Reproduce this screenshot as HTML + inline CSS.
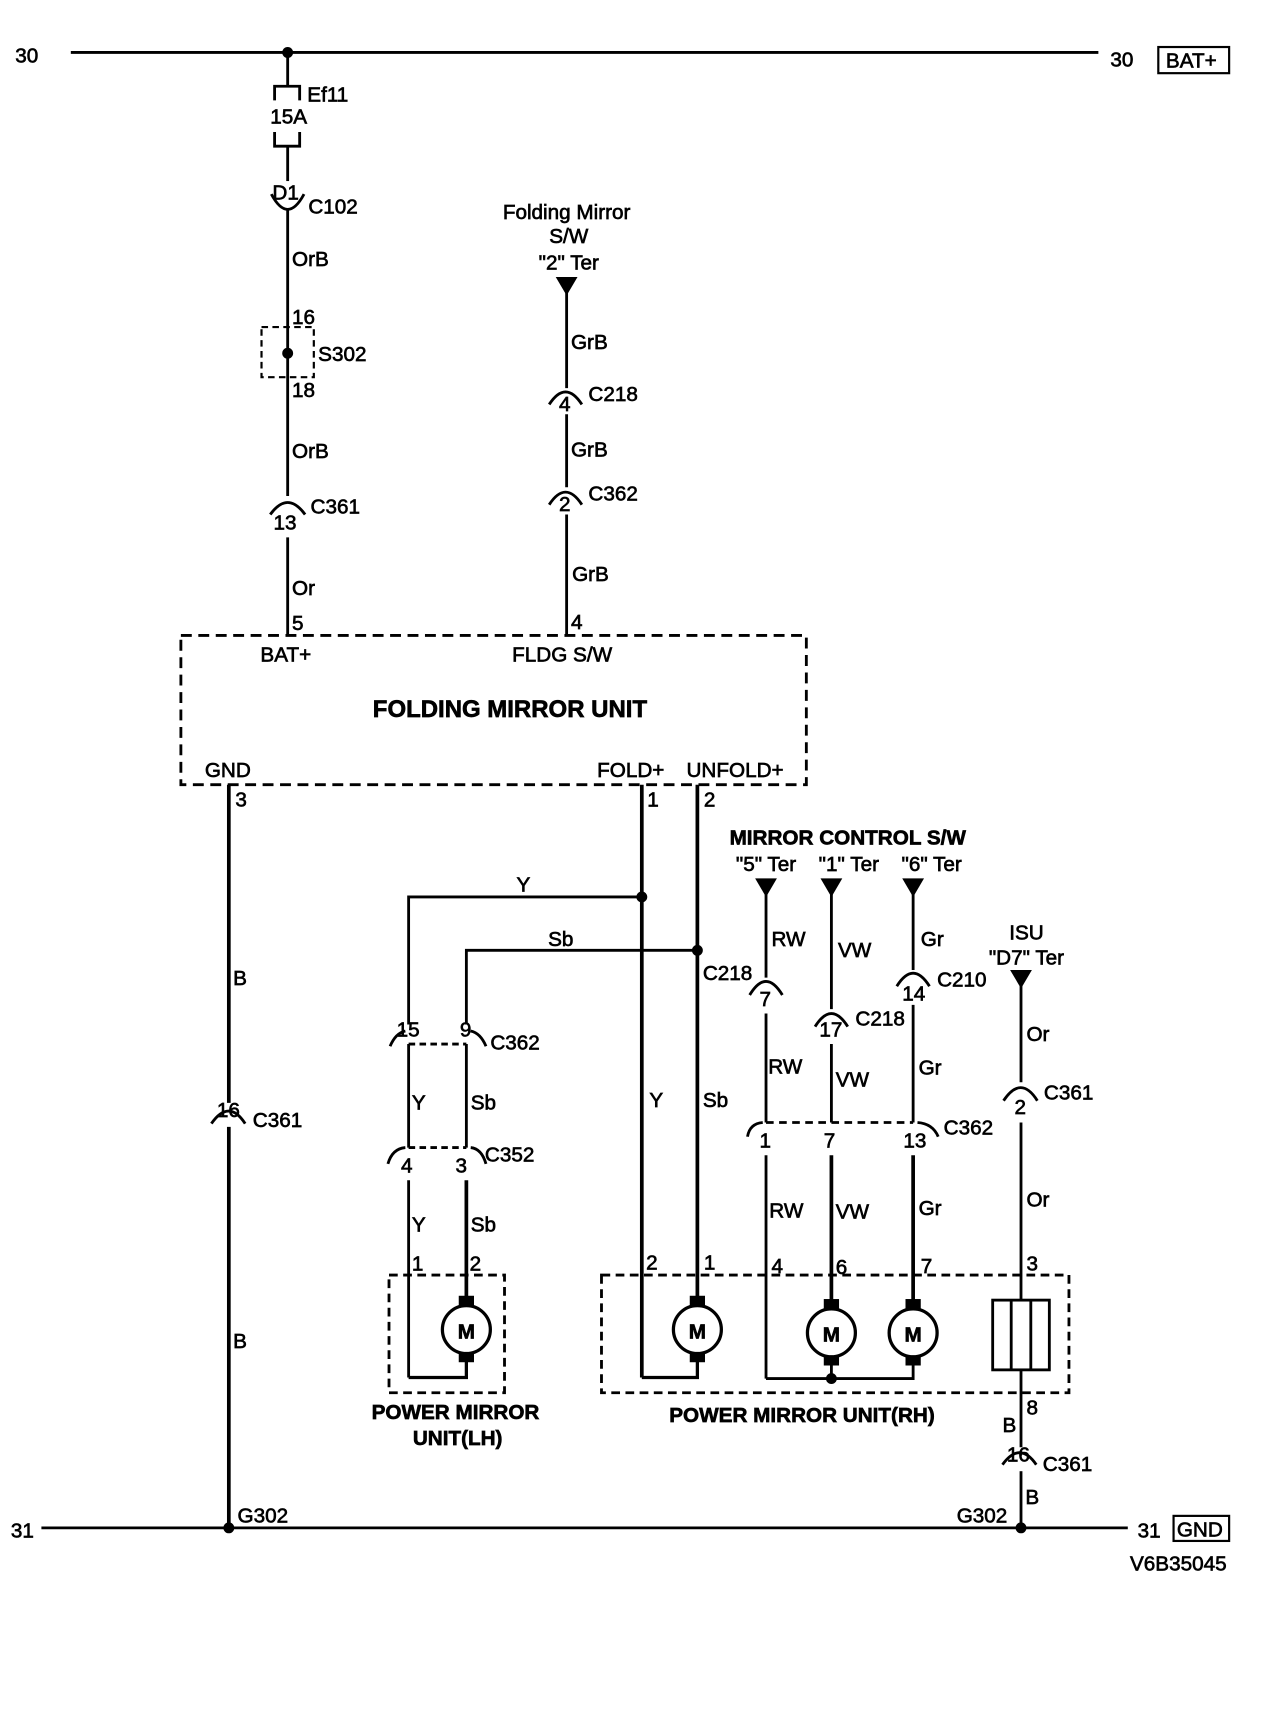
<!DOCTYPE html>
<html><head><meta charset="utf-8"><style>
html,body{margin:0;padding:0;background:#fff;}
svg{display:block;}
text{font-family:"Liberation Sans",Arial,sans-serif;font-size:19px;fill:#000;stroke:#000;stroke-width:0.6;}
.b{font-weight:bold;}
</style></head><body>
<svg width="1264" height="1710" viewBox="0 0 1160 1569" xmlns="http://www.w3.org/2000/svg">
<g stroke="#000" fill="none" stroke-width="2.6">
<line x1="65" y1="48" x2="1008" y2="48"/>
<line x1="38" y1="1402" x2="1035" y2="1402"/>
<rect x="1063" y="43" width="65" height="24" stroke-width="2"/>
<rect x="1077" y="1391" width="51" height="23" stroke-width="2"/>
<line x1="264" y1="48" x2="264" y2="79"/>
<path d="M252 92 V79 H275 V92"/>
<path d="M252 121 V134 H275 V121"/>
<line x1="264" y1="134" x2="264" y2="166"/>
<path d="M249 178 Q264 206 279 178"/>
<line x1="264" y1="192" x2="264" y2="455"/>
<rect x="240" y="300" width="48" height="46" stroke-dasharray="6,4" stroke-width="2"/>
<path d="M248 472 Q264 450 280 472"/>
<line x1="264" y1="493" x2="264" y2="583"/>
<line x1="520" y1="262" x2="520" y2="356"/>
<path d="M504 371 Q519 348 534 371"/>
<line x1="520" y1="380" x2="520" y2="447"/>
<path d="M504 463 Q519 440 534 463"/>
<line x1="520" y1="472" x2="520" y2="583"/>
<rect x="166" y="583" width="574" height="137" stroke-dasharray="10,6"/>
<line x1="210" y1="720" x2="210" y2="1012" stroke-width="3.4"/>
<path d="M194 1031 Q210 1008 225 1031"/>
<line x1="210" y1="1034" x2="210" y2="1402" stroke-width="3.4"/>
<line x1="589" y1="720" x2="589" y2="1264" stroke-width="3.4"/>
<line x1="640" y1="720" x2="640" y2="1195" stroke-width="3.4"/>
<path d="M589 1264 H640 V1248" stroke-width="3"/>
<path d="M589 823 H375 V940"/>
<path d="M640 872 H428 V940"/>
<path d="M358 960 Q363 948 372 946"/>
<path d="M432 946 Q441 948 446 960"/>
<line x1="375" y1="958" x2="428" y2="958" stroke-dasharray="6,4"/>
<line x1="375" y1="958" x2="375" y2="1053"/>
<line x1="428" y1="958" x2="428" y2="1053"/>
<path d="M356 1068 Q360 1054 372 1053"/>
<path d="M432 1053 Q442 1054 446 1068"/>
<line x1="375" y1="1053" x2="428" y2="1053" stroke-dasharray="6,4"/>
<line x1="375" y1="1083" x2="375" y2="1264"/>
<line x1="428" y1="1083" x2="428" y2="1195" stroke-width="3.4"/>
<path d="M375 1264 H428 V1248" stroke-width="3"/>
<rect x="357" y="1170" width="106" height="108" stroke-dasharray="8,5"/>
<rect x="552" y="1170" width="429" height="108" stroke-dasharray="8,5"/>
<line x1="703" y1="814" x2="703" y2="897"/>
<path d="M688 913 Q703 888 718 913"/>
<line x1="703" y1="930" x2="703" y2="1030"/>
<line x1="763" y1="814" x2="763" y2="926"/>
<path d="M748 942 Q763 918 778 942"/>
<line x1="763" y1="958" x2="763" y2="1030"/>
<line x1="838" y1="814" x2="838" y2="890"/>
<path d="M823 905 Q838 881 853 905"/>
<line x1="838" y1="922" x2="838" y2="1030"/>
<path d="M686 1043 Q688 1031 700 1030"/>
<path d="M842 1030 Q856 1031 861 1043"/>
<line x1="703" y1="1030" x2="838" y2="1030" stroke-dasharray="7,5"/>
<line x1="703" y1="1060" x2="703" y2="1265"/>
<line x1="763" y1="1060" x2="763" y2="1197" stroke-width="3.4"/>
<line x1="838" y1="1060" x2="838" y2="1197" stroke-width="3.4"/>
<path d="M703 1265 H838 V1250"/>
<line x1="763" y1="1250" x2="763" y2="1265"/>
<line x1="937" y1="900" x2="937" y2="993"/>
<path d="M921 1010 Q937 986 952 1010"/>
<line x1="937" y1="1030" x2="937" y2="1193"/>
<rect x="911" y="1193" width="52" height="64"/>
<line x1="928" y1="1193" x2="928" y2="1257"/>
<line x1="946" y1="1193" x2="946" y2="1257"/>
<line x1="937" y1="1257" x2="937" y2="1328"/>
<path d="M920 1344 Q936 1322 951 1344"/>
<line x1="937" y1="1350" x2="937" y2="1402"/>
</g>
<g stroke="#000" stroke-width="3" fill="#fff">
<circle cx="428" cy="1220" r="22"/><circle cx="640" cy="1220" r="22"/>
<circle cx="763" cy="1223" r="22"/><circle cx="838" cy="1223" r="22"/>
</g>
<g fill="#000">
<rect x="421" y="1189" width="14" height="10"/><rect x="421" y="1241" width="14" height="9"/>
<rect x="633" y="1189" width="14" height="10"/><rect x="633" y="1241" width="14" height="9"/>
<rect x="756" y="1192" width="14" height="10"/><rect x="756" y="1244" width="14" height="9"/>
<rect x="831" y="1192" width="14" height="10"/><rect x="831" y="1244" width="14" height="9"/>
<circle cx="264" cy="48" r="5"/><circle cx="264" cy="324" r="5"/>
<circle cx="589" cy="823" r="5"/><circle cx="640" cy="872" r="5"/>
<circle cx="763" cy="1265" r="5"/>
<circle cx="210" cy="1402" r="5"/><circle cx="937" cy="1402" r="5"/>
<path d="M510 254 H530 L520 271 Z"/>
<path d="M693 806 H713 L703 823 Z"/>
<path d="M753 806 H773 L763 823 Z"/>
<path d="M828 806 H848 L838 823 Z"/>
<path d="M927 890 H947 L937 907 Z"/>
</g>
<g text-anchor="middle">
<text x="428" y="1228" class="b">M</text><text x="640" y="1228" class="b">M</text>
<text x="763" y="1231" class="b">M</text><text x="838" y="1231" class="b">M</text>
</g>
<text x="14" y="57">30</text>
<text x="1019" y="61">30</text>
<text x="1070" y="62">BAT+</text>
<text x="10" y="1411">31</text>
<text x="1044" y="1411">31</text>
<text x="1080" y="1410">GND</text>
<text x="1037" y="1441">V6B35045</text>
<text x="282" y="93">Ef11</text>
<text x="248" y="113">15A</text>
<text x="250" y="183">D1</text>
<text x="283" y="196">C102</text>
<text x="268" y="244">OrB</text>
<text x="268" y="297">16</text>
<text x="292" y="331">S302</text>
<text x="268" y="364">18</text>
<text x="268" y="420">OrB</text>
<text x="251" y="486">13</text>
<text x="285" y="471">C361</text>
<text x="268" y="546">Or</text>
<text x="268" y="578">5</text>
<text x="520" y="201" text-anchor="middle">Folding Mirror</text>
<text x="522" y="223" text-anchor="middle">S/W</text>
<text x="522" y="247" text-anchor="middle">"2" Ter</text>
<text x="524" y="320">GrB</text>
<text x="513" y="377">4</text>
<text x="540" y="368">C218</text>
<text x="524" y="419">GrB</text>
<text x="513" y="469">2</text>
<text x="540" y="459">C362</text>
<text x="525" y="533">GrB</text>
<text x="524" y="577">4</text>
<text x="239" y="607">BAT+</text>
<text x="470" y="607">FLDG S/W</text>
<text x="468" y="658" text-anchor="middle" class="b" style="font-size:22px">FOLDING MIRROR UNIT</text>
<text x="188" y="713">GND</text>
<text x="548" y="713">FOLD+</text>
<text x="630" y="713">UNFOLD+</text>
<text x="216" y="740">3</text>
<text x="594" y="740">1</text>
<text x="646" y="740">2</text>
<text x="214" y="904">B</text>
<text x="199" y="1025">16</text>
<text x="232" y="1034">C361</text>
<text x="214" y="1237">B</text>
<text x="218" y="1397">G302</text>
<text x="474" y="818">Y</text>
<text x="503" y="868">Sb</text>
<text x="645" y="899">C218</text>
<text x="364" y="951">15</text>
<text x="422" y="951">9</text>
<text x="450" y="963">C362</text>
<text x="378" y="1018">Y</text>
<text x="432" y="1018">Sb</text>
<text x="368" y="1076">4</text>
<text x="418" y="1076">3</text>
<text x="445" y="1066">C352</text>
<text x="378" y="1130">Y</text>
<text x="432" y="1130">Sb</text>
<text x="378" y="1166">1</text>
<text x="431" y="1166">2</text>
<text x="418" y="1302" text-anchor="middle" class="b">POWER MIRROR</text>
<text x="420" y="1326" text-anchor="middle" class="b">UNIT(LH)</text>
<text x="596" y="1016">Y</text>
<text x="645" y="1016">Sb</text>
<text x="593" y="1165">2</text>
<text x="646" y="1165">1</text>
<text x="736" y="1305" text-anchor="middle" class="b">POWER MIRROR UNIT(RH)</text>
<text x="778" y="775" text-anchor="middle" class="b">MIRROR CONTROL S/W</text>
<text x="703" y="799" text-anchor="middle">"5" Ter</text>
<text x="779" y="799" text-anchor="middle">"1" Ter</text>
<text x="855" y="799" text-anchor="middle">"6" Ter</text>
<text x="708" y="868">RW</text>
<text x="769" y="878">VW</text>
<text x="845" y="868">Gr</text>
<text x="697" y="923">7</text>
<text x="752" y="951">17</text>
<text x="785" y="941">C218</text>
<text x="828" y="918">14</text>
<text x="860" y="905">C210</text>
<text x="705" y="985">RW</text>
<text x="767" y="997">VW</text>
<text x="843" y="986">Gr</text>
<text x="697" y="1053">1</text>
<text x="756" y="1053">7</text>
<text x="829" y="1053">13</text>
<text x="866" y="1041">C362</text>
<text x="706" y="1117">RW</text>
<text x="767" y="1118">VW</text>
<text x="843" y="1115">Gr</text>
<text x="708" y="1168">4</text>
<text x="767" y="1169">6</text>
<text x="845" y="1168">7</text>
<text x="942" y="862" text-anchor="middle">ISU</text>
<text x="942" y="885" text-anchor="middle">"D7" Ter</text>
<text x="942" y="955">Or</text>
<text x="931" y="1022">2</text>
<text x="958" y="1009">C361</text>
<text x="942" y="1107">Or</text>
<text x="942" y="1166">3</text>
<text x="942" y="1298">8</text>
<text x="920" y="1314">B</text>
<text x="924" y="1341">16</text>
<text x="957" y="1350">C361</text>
<text x="941" y="1380">B</text>
<text x="878" y="1397">G302</text>
</svg>
</body></html>
